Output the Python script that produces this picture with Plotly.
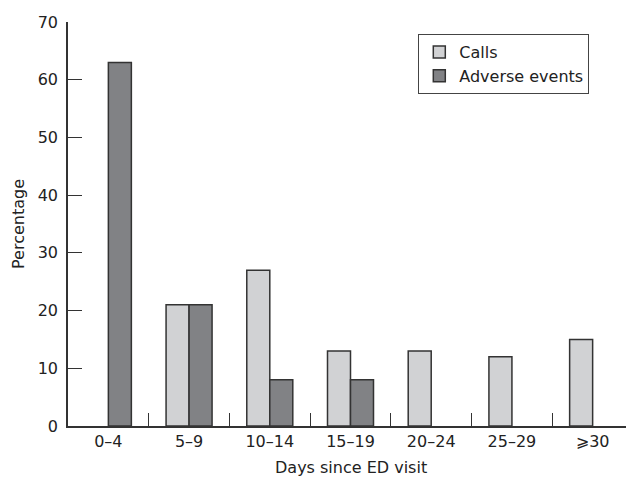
import plotly.graph_objects as go

categories = ["0–4", "5–9", "10–14", "15–19", "20–24", "25–29", "⩾30"]
calls = [None, 21, 27, 13, 13, 12, 15]
adverse_events = [63, 21, 8, 8, None, None, None]

FONT = "DejaVu Sans"
line_col = "#333333"
text_col = "#222222"

fig = go.Figure()
fig.add_trace(go.Bar(
    x=categories, y=calls, name="Calls",
    marker=dict(color="#d1d2d4", line=dict(color=line_col, width=1.5)),
))
fig.add_trace(go.Bar(
    x=categories, y=adverse_events, name="Adverse events",
    marker=dict(color="#818285", line=dict(color=line_col, width=1.5)),
))

# page body has an 8px default margin, so the figure is sized to fit the window
fig.update_layout(
    width=626, height=470,
    margin=dict(l=60, r=1, t=14, b=52, autoexpand=False),
    paper_bgcolor="white", plot_bgcolor="white",
    barmode="group", bargap=0.43, bargroupgap=0,
    font=dict(family=FONT, size=16, color=text_col),
    legend=dict(
        x=0.62, y=0.97, xanchor="left", yanchor="top",
        bordercolor="#444444", borderwidth=1, bgcolor="white",
        font=dict(size=16, family=FONT, color=text_col),
        tracegroupgap=0, itemwidth=30,
    ),
    showlegend=True,
)
fig.update_xaxes(
    type="category", automargin=False,
    showline=True, linecolor=line_col, linewidth=1.5,
    ticks="inside", tickson="boundaries", ticklen=13, tickcolor=line_col, tickwidth=1.2,
    showgrid=False,
    tickfont=dict(size=16),
)
fig.update_yaxes(
    range=[0, 70], dtick=10, automargin=False,
    showline=True, linecolor=line_col, linewidth=1.5,
    ticks="inside", ticklen=14, tickcolor=line_col, tickwidth=1.2,
    showgrid=False, zeroline=False,
    tickfont=dict(size=16), ticklabelstandoff=5,
)
fig.add_annotation(
    text="Days since ED visit", xref="paper", yref="paper",
    x=0.5, y=0, yshift=-41, xanchor="center", yanchor="middle",
    showarrow=False, font=dict(size=16, family=FONT, color=text_col),
)
fig.add_annotation(
    text="Percentage", xref="paper", yref="paper",
    x=0, xshift=-50, y=0.5, xanchor="center", yanchor="middle", textangle=-90,
    showarrow=False, font=dict(size=16, family=FONT, color=text_col),
)

fig.write_html("out.html")
